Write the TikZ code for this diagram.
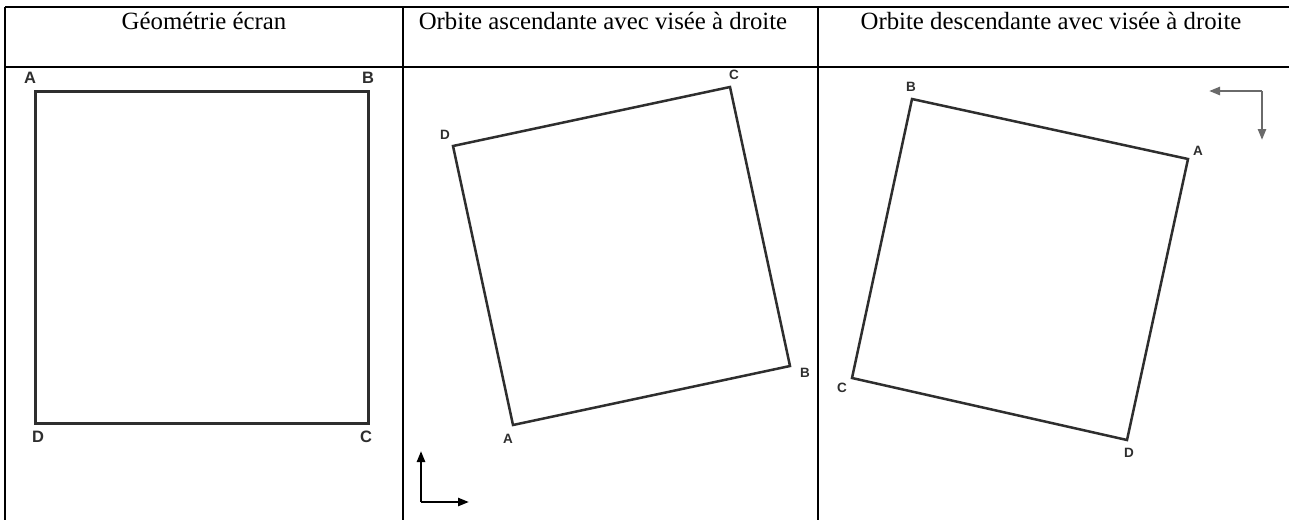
\documentclass[tikz,border=0pt]{standalone}
\usepackage{fontspec}
\setmainfont{Liberation Serif}
\newfontfamily\lblfont{Liberation Sans}
\usetikzlibrary{arrows.meta}
\definecolor{sq}{HTML}{2E2E2E}
\definecolor{garrow}{HTML}{6A6A6A}
\tikzset{
  grid/.style={line width=2.7pt, black},
  head/.style={anchor=base, font=\fontsize{24.8}{28}\selectfont, inner sep=0pt},
  sqbig/.style={draw=sq, line width=3pt, line join=miter},
  sqrot/.style={draw=sq, line width=2.5pt, line join=miter},
  lblA/.style={font=\lblfont\bfseries\fontsize{16.5}{17}\selectfont, text=sq, inner sep=0pt},
  lblB/.style={font=\lblfont\bfseries\fontsize{13.5}{14}\selectfont, text=sq, inner sep=0pt},
  axis/.style={line width=2.4pt, -{Triangle[length=11pt,width=8pt]}},
}
\begin{document}
\begin{tikzpicture}[x=1pt,y=-1pt]
\useasboundingbox (0,0) rectangle (1289,520);
\fill[white] (0,0) rectangle (1289,520);
% table grid
\coordinate (tl) at (5,7);
\coordinate (tr) at (1289,7);
\coordinate (hl) at (5,67);
\coordinate (hr) at (1289,67);
\coordinate (v1t) at (403,7);
\coordinate (v1b) at (403,520);
\coordinate (v2t) at (818,7);
\coordinate (v2b) at (818,520);
\coordinate (bl) at (5,520);
\draw[grid] (tl) -- (tr);
\draw[grid] (hl) -- (hr);
\draw[grid] (tl) -- (bl);
\draw[grid] (v1t) -- (v1b);
\draw[grid] (v2t) -- (v2b);
% headers
\node[head] (h1) at (204,29) {Géométrie écran};
\node[head] (h2) at (603,29) {Orbite ascendante avec visée à droite};
\node[head] (h3) at (1051,29) {Orbite descendante avec visée à droite};
% panel 1
\coordinate (pA) at (35,91);
\coordinate (pB) at (368,91);
\coordinate (pC) at (368,423);
\coordinate (pD) at (35,423);
\draw[sqbig] (pA) -- (pB) -- (pC) -- (pD) -- cycle;
\node[lblA] (lA1) at (30,78) {A};
\node[lblA] (lB1) at (368,78) {B};
\node[lblA] (lC1) at (366,437) {C};
\node[lblA] (lD1) at (38,437) {D};
% panel 2
\coordinate (qA) at (513,425);
\coordinate (qB) at (790,366);
\coordinate (qC) at (730,87);
\coordinate (qD) at (453,146);
\draw[sqrot] (qA) -- (qB) -- (qC) -- (qD) -- cycle;
\node[lblB] (lA2) at (508,439) {A};
\node[lblB] (lB2) at (805,373) {B};
\node[lblB] (lC2) at (734,75) {C};
\node[lblB] (lD2) at (445,135) {D};
\coordinate (o2) at (421,502);
\coordinate (u2) at (421,451);
\coordinate (r2) at (469,502);
\draw[axis, black] (o2) -- (u2);
\draw[axis, black] (o2) -- (r2);
% panel 3
\coordinate (rA) at (1188,159);
\coordinate (rB) at (912,99);
\coordinate (rC) at (852,378);
\coordinate (rD) at (1127,440);
\draw[sqrot] (rA) -- (rB) -- (rC) -- (rD) -- cycle;
\node[lblB] (lA3) at (1198,151) {A};
\node[lblB] (lB3) at (911,87) {B};
\node[lblB] (lC3) at (842,388) {C};
\node[lblB] (lD3) at (1129,453) {D};
\coordinate (o3) at (1262,91);
\coordinate (l3) at (1209,91);
\coordinate (d3) at (1262,140);
\draw[axis, garrow] (o3) -- (l3);
\draw[axis, garrow] (o3) -- (d3);
\end{tikzpicture}
\end{document}
